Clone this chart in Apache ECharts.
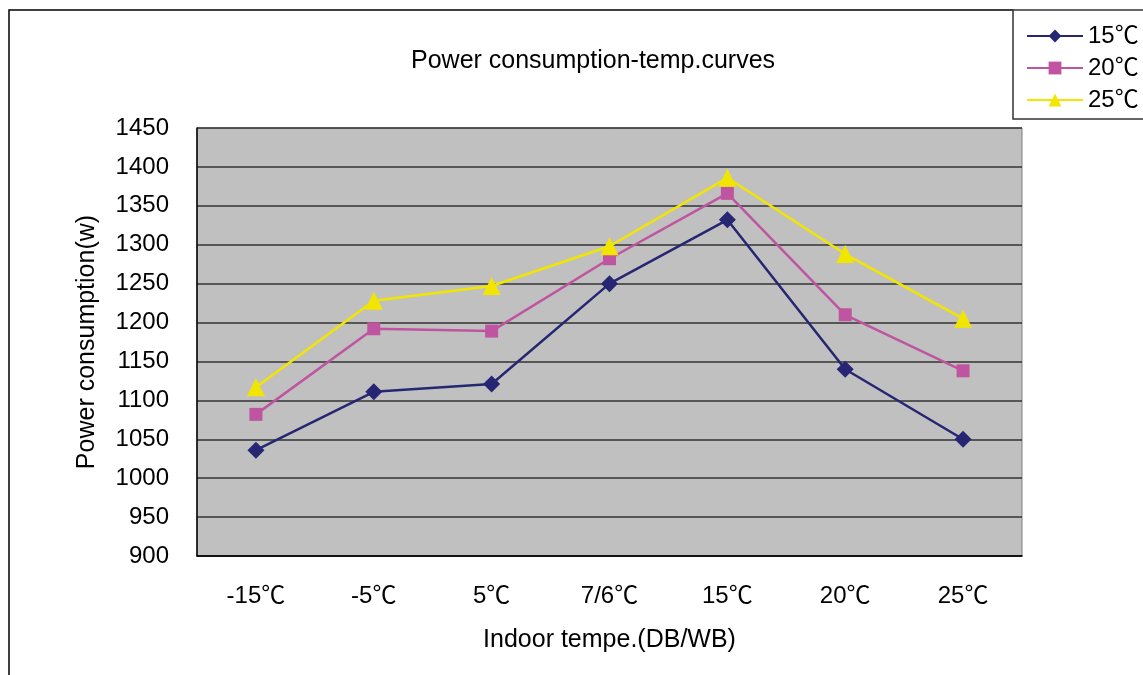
<!DOCTYPE html>
<html>
<head>
<meta charset="utf-8">
<script src="https://cdn.jsdelivr.net/npm/echarts@6/dist/echarts.min.js"></script>
<style>
  html, body { margin: 0; padding: 0; background: #fff; }
  #chart { width: 1143px; height: 675px; }
</style>
</head>
<body>
<div id="chart"></div>
<script>
// 데이터
const categories = ['-15℃', '-5℃', '5℃', '7/6℃', '15℃', '20℃', '25℃']
const seriesNames = ['15℃', '20℃', '25℃']
const values15 = [1036, 1111, 1121, 1250, 1332, 1140, 1050]
const values20 = [1082, 1192, 1189, 1282, 1366, 1210, 1138]
const values25 = [1117, 1228, 1247, 1298, 1386, 1288, 1205]

const FONT = '"Liberation Sans", Arial, "Noto Sans CJK SC", sans-serif'
const colors = ['#262673', '#bf55a0', '#f2e600']
const symbols = ['diamond', 'rect', 'triangle']
const symbolSizes = [17, 13, 18]

const makeSeries = (name, data, i) => ({
  name,
  type: 'line',
  data,
  symbol: symbols[i],
  symbolSize: symbolSizes[i],
  lineStyle: { color: colors[i], width: 2.5 },
  itemStyle: { color: colors[i] },
  animation: false
})

const chart = echarts.init(document.getElementById('chart'))
chart.setOption({
  textStyle: { fontFamily: FONT, color: '#000' },
  title: {
    text: 'Power consumption-temp.curves',
    left: 406,
    top: 44,
    textStyle: { fontFamily: FONT, fontSize: 25, fontWeight: 'normal', color: '#000' }
  },
  legend: {
    orient: 'vertical',
    left: 1021,
    top: 19,
    itemWidth: 56,
    itemHeight: 16,
    itemGap: 8,
    textStyle: { fontFamily: FONT, fontSize: 24, color: '#000' },
    data: seriesNames
  },
  grid: {
    left: 197,
    right: 121,
    top: 128,
    bottom: 119,
    show: true,
    backgroundColor: '#c0c0c0',
    borderColor: '#808080',
    borderWidth: 1
  },
  xAxis: {
    type: 'category',
    data: categories,
    boundaryGap: true,
    name: 'Indoor tempe.(DB/WB)',
    nameLocation: 'middle',
    nameGap: 72,
    nameTextStyle: { fontFamily: FONT, fontSize: 25, color: '#000' },
    axisLine: { lineStyle: { color: '#000', width: 1.5 } },
    axisTick: { inside: true, length: 8, lineStyle: { color: '#000' } },
    axisLabel: { fontFamily: FONT, fontSize: 24, color: '#000', margin: 28 }
  },
  yAxis: {
    type: 'value',
    min: 900,
    max: 1450,
    interval: 50,
    name: 'Power consumption(w)',
    nameLocation: 'middle',
    nameGap: 97,
    nameTextStyle: { fontFamily: FONT, fontSize: 25, color: '#000' },
    axisLine: { show: true, lineStyle: { color: '#000', width: 1.5 } },
    axisTick: { show: false },
    axisLabel: { fontFamily: FONT, fontSize: 24, color: '#000', margin: 28, formatter: v => String(v) },
    splitLine: { show: true, lineStyle: { color: '#333', width: 1.5 } }
  },
  series: [
    makeSeries(seriesNames[0], values15, 0),
    makeSeries(seriesNames[1], values20, 1),
    makeSeries(seriesNames[2], values25, 2)
  ],
  graphic: [
    {
      type: 'polyline',
      shape: { points: [[9, 675], [9, 10], [1013, 10]] },
      style: { stroke: '#000', lineWidth: 1.5, fill: null }
    },
    {
      type: 'rect',
      shape: { x: 1013, y: 10, width: 140, height: 109 },
      style: { stroke: '#333', lineWidth: 1.5, fill: null }
    }
  ]
})
</script>
</body>
</html>
